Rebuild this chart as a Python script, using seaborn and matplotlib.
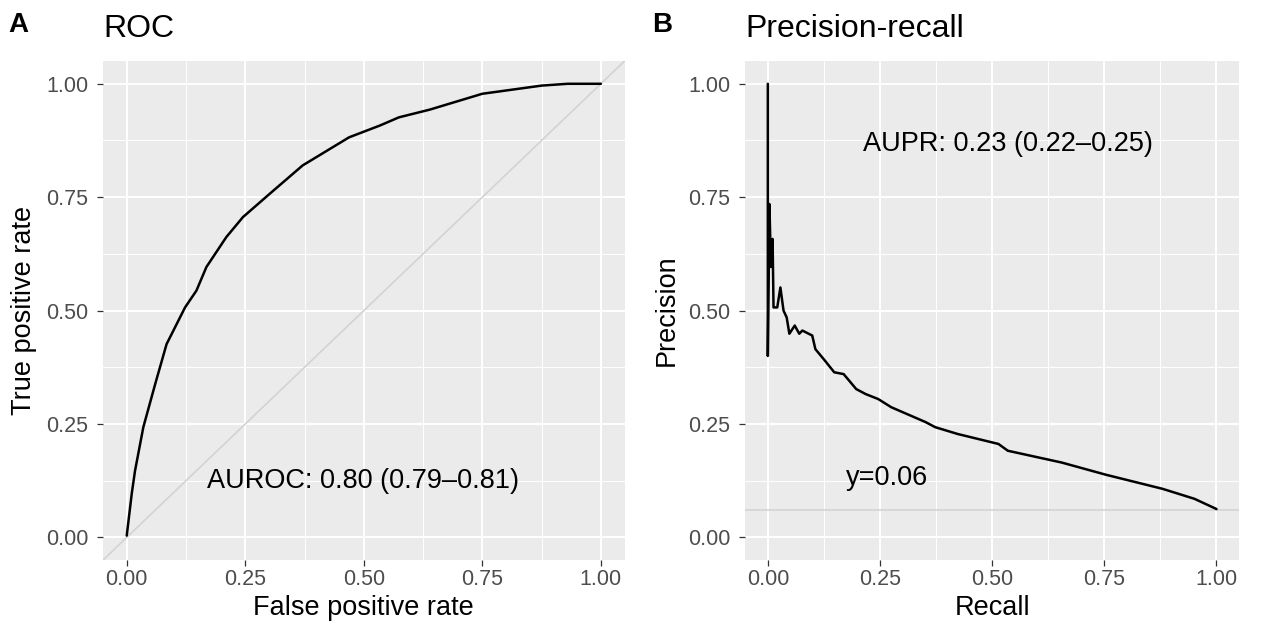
import numpy as np
import pandas as pd
import seaborn as sns
import matplotlib.pyplot as plt
from matplotlib.ticker import MultipleLocator

# ROC curve
fpr = [0.0, 0.0105, 0.0175, 0.035, 0.060, 0.084, 0.123, 0.147, 0.168, 0.210, 0.245,
       0.301, 0.371, 0.469, 0.534, 0.574, 0.639, 0.75, 0.875, 0.93, 1.0]
tpr = [0.004, 0.096, 0.147, 0.243, 0.338, 0.426, 0.507, 0.544, 0.596, 0.662, 0.706,
       0.757, 0.820, 0.882, 0.908, 0.926, 0.943, 0.978, 0.996, 1.0, 1.0]

# precision-recall curve
recall = [0.0, 0.0, 0.0035, 0.007, 0.0106, 0.0127, 0.021, 0.028, 0.035, 0.042, 0.048,
          0.060, 0.070, 0.077, 0.099, 0.106, 0.127, 0.148, 0.169, 0.197, 0.218, 0.246,
          0.275, 0.352, 0.373, 0.423, 0.514, 0.535, 0.655, 0.754, 0.880, 0.951, 1.0]
precision = [1.0, 0.40, 0.735, 0.596, 0.658, 0.507, 0.507, 0.551, 0.50, 0.485, 0.449,
             0.467, 0.449, 0.456, 0.445, 0.415, 0.390, 0.364, 0.360, 0.327, 0.316, 0.305,
             0.287, 0.254, 0.243, 0.228, 0.206, 0.191, 0.165, 0.138, 0.107, 0.085, 0.0625]

baseline = 0.06
auroc_text = "AUROC: 0.80 (0.79\u20130.81)"
aupr_text = "AUPR: 0.23 (0.22\u20130.25)"
ticks = [0.0, 0.25, 0.5, 0.75, 1.0]
tick_labels = ["0.00", "0.25", "0.50", "0.75", "1.00"]

sns.set_theme(style="darkgrid", rc={
    "axes.facecolor": "#EBEBEB",
    "grid.color": "white",
    "axes.edgecolor": "none",
    "text.color": "black",
    "axes.labelcolor": "black",
})
plt.rcParams["font.family"] = ["Liberation Sans", "DejaVu Sans"]

roc = pd.DataFrame({"fpr": fpr, "tpr": tpr})
pr = pd.DataFrame({"recall": recall, "precision": precision})

fig = plt.figure(figsize=(12.72, 6.3), dpi=100)
ax1 = fig.add_axes([0.081, 0.111, 0.410, 0.792])
ax2 = fig.add_axes([0.586, 0.111, 0.388, 0.792])

for ax in (ax1, ax2):
    ax.set_xlim(-0.05, 1.05)
    ax.set_ylim(-0.05, 1.05)
    ax.xaxis.set_minor_locator(MultipleLocator(0.125))
    ax.yaxis.set_minor_locator(MultipleLocator(0.125))
    ax.set_xticks(ticks, tick_labels)
    ax.set_yticks(ticks, tick_labels)
    ax.grid(which="major", color="white", linewidth=1.4)
    ax.grid(which="minor", color="white", linewidth=0.7)
    ax.tick_params(which="major", length=4.2, width=0.9, color="#333333",
                   labelsize=15.5, labelcolor="#4D4D4D",
                   bottom=True, left=True)
    ax.tick_params(axis="x", which="major", pad=2.5)
    ax.tick_params(axis="y", which="major", pad=6.5)
    ax.tick_params(which="minor", length=0)
    ax.set_axisbelow(True)

# ROC panel
ax1.axline((0, 0), (1, 1), color="#D3D3D3", linewidth=1.2, zorder=1)
sns.lineplot(data=roc, x="fpr", y="tpr", ax=ax1, color="black", linewidth=1.8,
             sort=False, estimator=None, zorder=3)
ax1.text(0.499, 0.108, auroc_text, ha="center", va="baseline", fontsize=19.5)
ax1.set_xlabel("False positive rate", fontsize=19.5, labelpad=3)
ax1.set_ylabel("True positive rate", fontsize=19.5, labelpad=6)
ax1.set_title("ROC", loc="left", fontsize=23, pad=17)

# PR panel
ax2.axhline(baseline, color="#D3D3D3", linewidth=1.2, zorder=1)
sns.lineplot(data=pr, x="recall", y="precision", ax=ax2, color="black", linewidth=1.8,
             sort=False, estimator=None, zorder=3)
ax2.text(0.535, 0.868, aupr_text, ha="center", va="center", fontsize=19.5)
ax2.text(0.266, 0.13, "y=0.06", ha="center", va="center", fontsize=19.5)
ax2.set_xlabel("Recall", fontsize=19.5, labelpad=3)
ax2.set_ylabel("Precision", fontsize=19.5, labelpad=6)
ax2.set_title("Precision-recall", loc="left", fontsize=23, pad=17)

fig.text(0.0066, 0.96, "A", fontsize=20, fontweight="bold", va="center")
fig.text(0.513, 0.96, "B", fontsize=20, fontweight="bold", va="center")

fig.savefig("out.png", dpi=100)
